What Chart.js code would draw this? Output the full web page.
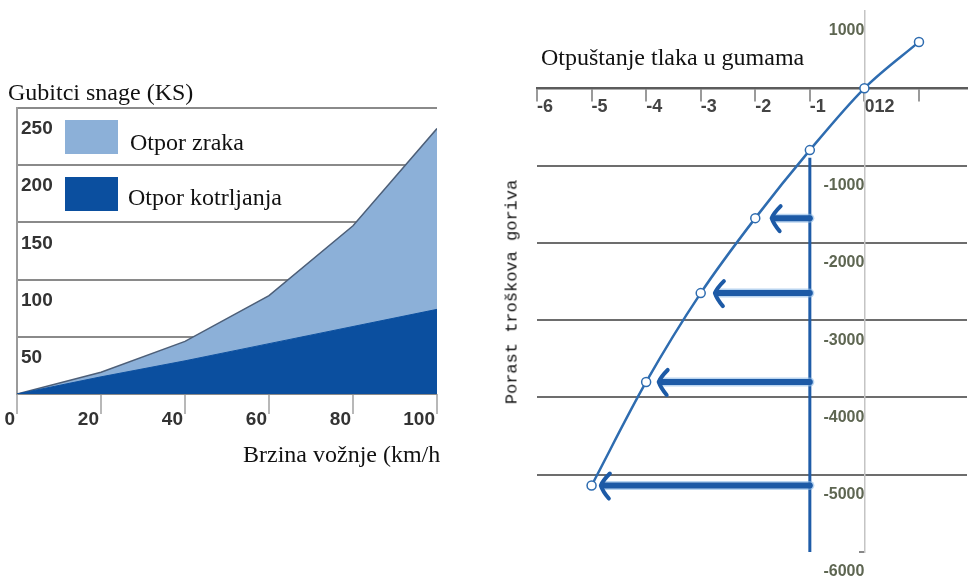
<!DOCTYPE html>
<html><head><meta charset="utf-8">
<script src="https://cdn.jsdelivr.net/npm/chart.js@4.4.1/dist/chart.umd.min.js"></script>
<style>
html,body{margin:0;padding:0;background:#fff;width:973px;height:584px;overflow:hidden;position:relative}
.t{position:absolute;font-family:'Liberation Serif','Times New Roman',serif;font-size:24px;line-height:24px;color:#111;white-space:nowrap}
#left{position:absolute;left:0;top:0}
#right{position:absolute;left:490px;top:0}
.sw{position:absolute;width:53px;height:34px}
</style></head><body>
<canvas id="left" width="441" height="584"></canvas>
<canvas id="right" width="483" height="584"></canvas>
<div class="t" style="left:8px;top:80px">Gubitci snage (KS)</div>
<div id="legend"></div>
<div style="position:absolute;left:0;top:440px;width:441px;height:32px;overflow:hidden"><div class="t" style="left:243px;top:2px">Brzina vožnje (km/h)</div></div>
<div class="t" style="left:541px;top:45px">Otpuštanje tlaka u gumama</div>
<div class="t" style="left:512px;top:292px;font-family:'Liberation Mono',monospace;font-size:17px;line-height:17px;transform:translate(-50%,-50%) rotate(-90deg)">Porast troškova goriva</div>
<script>
// ---- Left chart data ----
const speeds = [0, 20, 40, 60, 80, 100];
const rollingLoss = [0, 15, 29, 44, 59, 74];
const airLoss = [0, 4, 17, 42, 88, 158];
const lossTickStep = 50;
const seriesNames = ['Otpor zraka', 'Otpor kotrljanja'];

// ---- Right chart data ----
const pressureDrop = [-5, -4, -3, -2, -1, 0, 1];
const fuelCostIncrease = [-5140, -3800, -2650, -1680, -800, 0, 600];
const pressureTickLabels = {'-6':'-6','-5':'-5','-4':'-4','-3':'-3','-2':'-2','-1':'-1','0':'012','1':''};
const costTickStep = 1000;
const referenceDrop = -1;
const referenceLine = [-900, -6000];
const arrowCost = [-1680, -2650, -3800, -5140];
const arrowTip = [-1.7, -2.74, -3.77, -4.83];

const TICKFONT = "'Liberation Sans','Arial',sans-serif";
const LIGHT = '#8cb0d8', DARK = '#0b4f9f';

function zeroFit(w, h) {
  return function (s) {
    if (w !== null) s.width = w;
    if (h !== null) s.height = h;
    s.paddingTop = 0; s.paddingBottom = 0; s.paddingLeft = 0; s.paddingRight = 0;
  };
}

const leftChart = new Chart(document.getElementById('left'), {
  type: 'line',
  data: {
    datasets: [
      { label: seriesNames[1], data: speeds.map((s, i) => ({x: s, y: rollingLoss[i]})),
        backgroundColor: DARK, borderColor: DARK, borderWidth: 1, fill: 'origin', pointRadius: 0, tension: 0 },
      { label: seriesNames[0], data: speeds.map((s, i) => ({x: s, y: airLoss[i]})),
        backgroundColor: LIGHT, borderColor: '#4d5f78', borderWidth: 1.5, fill: '-1', pointRadius: 0, tension: 0 }
    ]
  },
  options: {
    responsive: false, animation: false, events: [],
    layout: { padding: { left: 17, right: 4, top: 108, bottom: 150 } },
    plugins: { legend: { display: false }, tooltip: { enabled: false } },
    scales: {
      x: { type: 'linear', min: 0, max: 100, afterFit: zeroFit(null, 40),
        grid: { drawOnChartArea: false, tickLength: 20, color: '#b8b8b8', lineWidth: 2 },
        border: { display: false },
        ticks: { stepSize: 20, align: 'end', padding: -6, labelOffset: -2, maxRotation: 0, autoSkip: false,
          color: '#333', font: { family: TICKFONT, size: 19, weight: 'bold' }, callback: v => String(v) } },
      y: { type: 'linear', stacked: true, min: 0, max: 250, afterFit: zeroFit(0, null),
        grid: { color: '#8a8a8a', lineWidth: 2, drawTicks: false },
        border: { display: true, color: '#9a9a9a', width: 2 },
        ticks: { stepSize: lossTickStep, mirror: true, padding: 4, labelOffset: 21,
          color: '#333', font: { family: TICKFONT, size: 19, weight: 'bold' }, callback: v => v === 0 ? '' : String(v) } }
    }
  }
});

// legend built from the chart's datasets
(function () {
  const leg = document.getElementById('legend');
  const tops = [120, 177], textTops = [130, 185], textLefts = [130, 128];
  seriesNames.forEach((name, i) => {
    const ds = leftChart.data.datasets.find(d => d.label === name);
    const sw = document.createElement('div');
    sw.className = 'sw'; sw.style.left = '65px'; sw.style.top = tops[i] + 'px'; sw.style.background = ds.backgroundColor;
    leg.appendChild(sw);
    const t = document.createElement('div');
    t.className = 't'; t.style.left = textLefts[i] + 'px'; t.style.top = textTops[i] + 'px'; t.textContent = name;
    leg.appendChild(t);
  });
})();

const arrowPlugin = {
  id: 'arrows',
  afterDatasetsDraw(chart) {
    const xs = chart.scales.x, ys = chart.scales.y, ctx = chart.ctx;
    const x0 = xs.getPixelForValue(referenceDrop);
    ctx.save();
    ctx.lineCap = 'round'; ctx.lineJoin = 'round';
    arrowCost.forEach((c, i) => {
      const y = ys.getPixelForValue(c);
      const xt = xs.getPixelForValue(arrowTip[i]);
      ctx.strokeStyle = 'rgba(140,185,230,0.6)'; ctx.lineWidth = 9;
      ctx.beginPath(); ctx.moveTo(x0, y); ctx.lineTo(xt + 3, y); ctx.stroke();
      ctx.strokeStyle = '#1d5aa6'; ctx.lineWidth = 6;
      ctx.beginPath(); ctx.moveTo(x0, y); ctx.lineTo(xt + 3, y); ctx.stroke();
      ctx.lineWidth = 4;
      ctx.beginPath();
      ctx.moveTo(xt + 9, y - 12);
      ctx.quadraticCurveTo(xt + 2, y - 5, xt, y);
      ctx.quadraticCurveTo(xt + 2, y + 6, xt + 8, y + 13);
      ctx.stroke();
    });
    ctx.restore();
  }
};

new Chart(document.getElementById('right'), {
  type: 'line',
  data: {
    datasets: [
      { label: 'Porast troškova goriva', data: pressureDrop.map((p, i) => ({x: p, y: fuelCostIncrease[i]})),
        borderColor: '#2e6cb0', borderWidth: 2.5, cubicInterpolationMode: 'monotone', fill: false,
        pointRadius: 4.5, pointBackgroundColor: '#fff', pointBorderColor: '#2e6cb0', pointBorderWidth: 1.5 },
      { label: 'ref', data: referenceLine.map(v => ({x: referenceDrop, y: v})),
        borderColor: '#1f5ca8', borderWidth: 3, pointRadius: 0, fill: false }
    ]
  },
  options: {
    responsive: false, animation: false, events: [],
    layout: { padding: { left: 47, right: 0, top: 11, bottom: 32 } },
    plugins: { legend: { display: false }, tooltip: { enabled: false } },
    scales: {
      x: { type: 'linear', min: -6, max: 1.88, position: { y: 0 }, afterFit: zeroFit(null, 0),
        grid: { drawOnChartArea: false, tickLength: 12, color: '#9a9a9a', lineWidth: 2 },
        border: { display: true, color: '#5c5c5c', width: 2.5 },
        ticks: { stepSize: 1, includeBounds: false, align: 'start', padding: -4, maxRotation: 0, autoSkip: false,
          color: '#444', font: { family: TICKFONT, size: 18, weight: 'bold' },
          callback: v => (pressureTickLabels[String(v)] !== undefined ? pressureTickLabels[String(v)] : String(v)) } },
      y: { type: 'linear', min: -6000, max: 1000, position: { x: 0 }, afterFit: zeroFit(0, null),
        grid: { lineWidth: 2, tickLength: 5,
          color: c => (c.tick && c.tick.value <= -1000 && c.tick.value >= -5000) ? '#6d6d6d' : 'rgba(0,0,0,0)',
          tickColor: c => (c.tick && c.tick.value === -6000) ? '#888' : 'rgba(0,0,0,0)' },
        border: { display: true, color: '#c4c4c4', width: 1.5 },
        ticks: { stepSize: costTickStep, includeBounds: false, labelOffset: 20, padding: 0,
          color: '#5e6652', font: { family: TICKFONT, size: 16, weight: 'bold' },
          callback: v => v === 0 ? '' : String(v) } }
    }
  },
  plugins: [arrowPlugin]
});
</script>
</body></html>
